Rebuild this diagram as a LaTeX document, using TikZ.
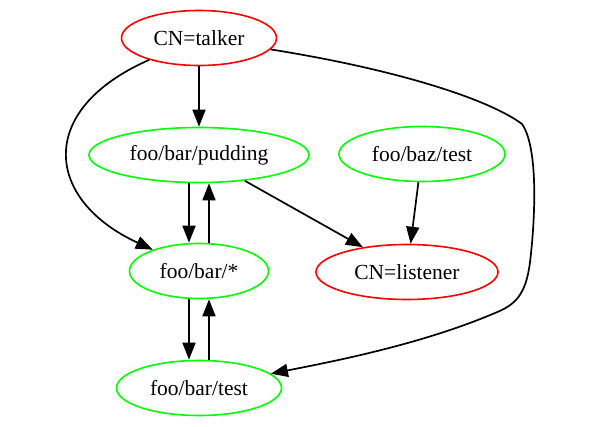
\documentclass[tikz,border=0pt]{standalone}
\usepackage{fontspec}
\setmainfont{Liberation Serif}
\usetikzlibrary{arrows.meta,shapes.geometric}

\definecolor{gvred}{RGB}{255,0,0}
\definecolor{gvgreen}{RGB}{0,255,0}

\begin{document}
\begin{tikzpicture}[
  x=1pt, y=-1pt,
  >={Triangle[length=17pt,width=13pt]},
  every node/.style={font=\fontsize{21.5}{24}\selectfont},
  ell/.style={draw, ellipse, line width=1.6pt, inner sep=0pt, minimum height=55pt},
  peer/.style={ell, draw=gvred},
  topic/.style={ell, draw=gvgreen},
  edge/.style={->, line width=1.7pt},
]
\useasboundingbox (0,0) rectangle (598,427);

\node[peer, minimum width=155pt] (talker) at (199,38) {CN=talker};
\node[topic, minimum width=220pt] (pudding) at (199,155) {foo/bar/pudding};
\node[topic, minimum width=166pt] (baztest) at (422,154) {foo/baz/test};
\node[topic, minimum width=139pt] (star) at (199,271) {foo/bar/*};
\node[peer, minimum width=182pt] (listener) at (407,272) {CN=listener};
\node[topic, minimum width=165pt] (bartest) at (199,388) {foo/bar/test};

\draw[edge] (talker) -- (pudding);
\draw[edge] (talker) .. controls (35,110) and (45,200) .. (star);
\draw[edge] (talker) .. controls (400,70) and (490,100) .. (522,124)
  .. controls (540,150) and (534,230) .. (530,262)
  .. controls (526,295) and (515,305) .. (495,313)
  .. controls (420,345) and (330,362) .. (bartest);

% pudding <-> foo/bar/*
\draw[edge] ([xshift=-10pt]pudding.south) -- ([xshift=-10pt]star.north);
\draw[edge] ([xshift=10pt]star.north) -- ([xshift=10pt]pudding.south);
\draw[edge] (pudding) -- (listener);
\draw[edge] (baztest) -- (listener);

% foo/bar/* <-> foo/bar/test
\draw[edge] ([xshift=-10pt]star.south) -- ([xshift=-10pt]bartest.north);
\draw[edge] ([xshift=10pt]bartest.north) -- ([xshift=10pt]star.south);
\end{tikzpicture}
\end{document}
